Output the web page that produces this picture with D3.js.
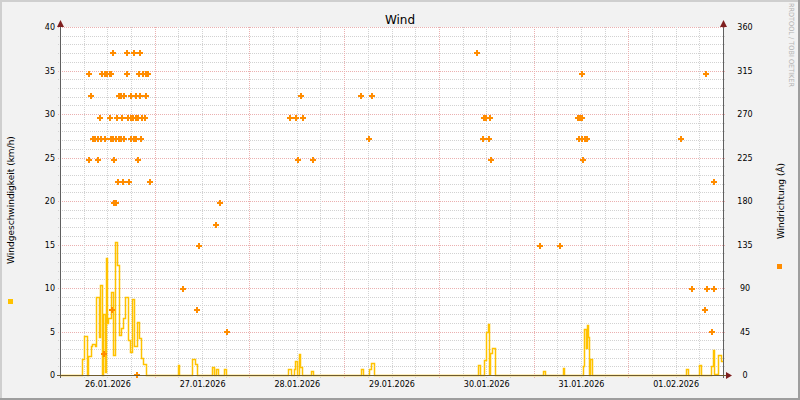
<!DOCTYPE html>
<html><head><meta charset="utf-8">
<script src="https://cdn.jsdelivr.net/npm/d3@7"></script>
<style>body{margin:0;background:#F2F2F2}svg{display:block}</style>
</head><body><svg id="c" width="800" height="400"></svg>
<script>
// ---- DATA ----
const chartTitle = "Wind";
const leftLabel = "Windgeschwindigkeit (km/h)";
const rightLabel = "Windrichtung (Â)";
const watermark = "RRDTOOL / TOBI OETIKER";
const rangeStart = "2026-01-26 00:00";
const rangeEnd = "2026-02-02 00:00";
const dayLabels = ["26.01.2026","27.01.2026","28.01.2026","29.01.2026","30.01.2026","31.01.2026","01.02.2026"];
const leftTicks = [0,5,10,15,20,25,30,35,40];
const rightTicks = [0,45,90,135,180,225,270,315,360];

// wind speed (km/h), step values starting at each time
const speedTimes = [
"2026-01-26 00:00","2026-01-26 05:30","2026-01-26 06:00","2026-01-26 06:45","2026-01-26 07:00","2026-01-26 07:45",
"2026-01-26 08:05","2026-01-26 08:45","2026-01-26 09:05","2026-01-26 09:50","2026-01-26 10:05","2026-01-26 10:40",
"2026-01-26 10:55","2026-01-26 11:25","2026-01-26 11:35","2026-01-26 11:55","2026-01-26 12:15","2026-01-26 12:55",
"2026-01-26 13:25","2026-01-26 13:55","2026-01-26 14:20","2026-01-26 14:55","2026-01-26 15:25","2026-01-26 16:05",
"2026-01-26 16:30","2026-01-26 17:10","2026-01-26 17:50","2026-01-26 18:20","2026-01-26 18:50","2026-01-26 19:30",
"2026-01-26 20:05","2026-01-26 20:35","2026-01-26 21:05","2026-01-26 21:50",
"2026-01-27 05:50","2026-01-27 06:10","2026-01-27 09:30","2026-01-27 10:05","2026-01-27 10:40",
"2026-01-27 14:30","2026-01-27 15:00","2026-01-27 15:30","2026-01-27 16:00","2026-01-27 17:35","2026-01-27 18:00",
"2026-01-28 09:50","2026-01-28 10:30","2026-01-28 11:20","2026-01-28 11:35","2026-01-28 12:00",
"2026-01-28 12:30","2026-01-28 12:55","2026-01-28 13:25","2026-01-28 15:40","2026-01-28 16:05",
"2026-01-29 04:20","2026-01-29 04:50","2026-01-29 06:25","2026-01-29 06:55","2026-01-29 07:30",
"2026-01-30 10:00","2026-01-30 10:30","2026-01-30 11:30","2026-01-30 12:00","2026-01-30 12:25","2026-01-30 12:45",
"2026-01-30 13:05","2026-01-30 13:35","2026-01-30 14:10",
"2026-01-31 02:20","2026-01-31 02:50","2026-01-31 07:20","2026-01-31 07:40",
"2026-01-31 12:25","2026-01-31 12:40","2026-01-31 13:10","2026-01-31 13:25","2026-01-31 13:50","2026-01-31 14:05",
"2026-01-31 14:25","2026-01-31 14:55",
"2026-02-01 14:40","2026-02-01 15:10","2026-02-01 17:50","2026-02-01 18:20",
"2026-02-01 21:05","2026-02-01 21:25","2026-02-01 21:50","2026-02-01 22:40","2026-02-01 23:30","2026-02-02 00:00"];
const speedValues = [
0,1.8,4.5,0,2.2,3.3,
3.6,3.3,9.0,4.4,10.3,0,
7.0,0.3,13.5,6.0,6.5,9.5,
2.3,15.3,12.6,4.6,5.4,6.5,
9.0,4.0,2.6,8.7,3.3,6.1,
4.3,2.0,1.3,0,
1.1,0,1.8,1.3,0,
0.9,0,0.7,0,0.7,0,
0.65,0,0.65,1.6,0,
2.4,0.9,0,0.5,0,
0.65,0,0.65,1.35,0,
1.15,0,1.7,4.9,5.9,0.1,
2.5,3.1,0,
0.45,0,0.8,0,
1.0,5.3,3.1,5.8,4.4,0,
1.8,0,
0.7,0,1.15,0,
1.05,2.9,0.1,2.25,1.6,1.6];

// wind direction (degrees, as read on the right axis)
const dirTimes = [
"2026-01-26 13:30","2026-01-26 17:05","2026-01-26 18:50","2026-01-26 20:20",
"2026-01-26 07:25","2026-01-26 10:40","2026-01-26 11:20","2026-01-26 12:00","2026-01-26 12:40","2026-01-26 13:00","2026-01-26 16:55","2026-01-26 19:55","2026-01-26 21:05","2026-01-26 21:45","2026-01-26 22:20",
"2026-01-26 07:55","2026-01-26 14:50","2026-01-26 15:30","2026-01-26 16:15","2026-01-26 17:55","2026-01-26 19:20","2026-01-26 20:20","2026-01-26 21:50",
"2026-01-26 10:15","2026-01-26 12:40","2026-01-26 14:30","2026-01-26 15:45","2026-01-26 17:15","2026-01-26 17:55","2026-01-26 18:35","2026-01-26 19:15","2026-01-26 19:45","2026-01-26 20:45","2026-01-26 21:30",
"2026-01-26 08:15","2026-01-26 08:55","2026-01-26 09:40","2026-01-26 10:20","2026-01-26 11:30","2026-01-26 12:50","2026-01-26 13:30","2026-01-26 14:10","2026-01-26 14:50","2026-01-26 15:30","2026-01-26 16:15","2026-01-26 18:05","2026-01-26 18:45","2026-01-26 19:15","2026-01-26 20:35",
"2026-01-26 07:25","2026-01-26 09:45","2026-01-26 13:45","2026-01-26 19:50",
"2026-01-26 14:45","2026-01-26 16:00","2026-01-26 17:35","2026-01-26 22:55",
"2026-01-26 13:35","2026-01-26 14:10","2026-01-26 13:15","2026-01-26 11:15","2026-01-26 19:25",
"2026-01-27 07:15","2026-01-27 10:45","2026-01-27 11:20","2026-01-27 15:35","2026-01-27 16:35","2026-01-27 18:25",
"2026-01-28 10:15","2026-01-28 11:50","2026-01-28 13:35","2026-01-28 13:05","2026-01-28 12:20","2026-01-28 16:05",
"2026-01-29 04:15","2026-01-29 07:05","2026-01-29 06:20",
"2026-01-30 09:45","2026-01-30 11:25","2026-01-30 11:55","2026-01-30 13:00","2026-01-30 11:10","2026-01-30 12:45","2026-01-30 13:15",
"2026-01-31 01:45","2026-01-31 06:45","2026-01-31 12:20","2026-01-31 11:20","2026-01-31 11:45","2026-01-31 12:10","2026-01-31 11:35","2026-01-31 12:15","2026-01-31 13:00","2026-01-31 13:35","2026-01-31 12:35",
"2026-02-01 13:25","2026-02-01 19:40","2026-02-01 21:45","2026-02-01 16:10","2026-02-01 20:00","2026-02-01 21:50","2026-02-01 19:30","2026-02-01 21:15"];
const dirValues = [
333,333,333,333,
311,311,311,311,311,311,311,311,311,311,311,
289,289,289,289,289,289,289,289,
266,266,266,266,266,266,266,266,266,266,266,
244,244,244,244,244,244,244,244,244,244,244,244,244,244,244,
222,222,222,222,
200,200,200,200,
178,178,67,22,0,
89,67,133,155,178,44,
266,266,266,289,222,222,
289,289,244,
333,266,266,266,244,244,222,
133,133,311,266,266,266,244,244,244,244,222,
244,311,200,89,89,89,67,44];

// ---- DRAWING ----
const parse = d3.timeParse("%Y-%m-%d %H:%M");
const parseDay = d3.timeParse("%d.%m.%Y");
const svg = d3.select("#c");
const W = 800, H = 400;
const L = 60, R = 723, T = 27, B = 375;
const snap = v => Math.round(v) + 0.5;

const x = d3.scaleTime().domain([parse(rangeStart), parse(rangeEnd)]).range([L, R]);
const ySpeed = d3.scaleLinear().domain([0, 40]).range([B, T]);
const yDir = d3.scaleLinear().domain([0, 360]).range([B, T]);

const font = "DejaVu Sans, Verdana, sans-serif";
const speedColor = "#FFC200", dirColor = "#FF8C00";

// background + shade
svg.append("rect").attr("width", W).attr("height", H).attr("fill", "#F2F2F2");
svg.append("rect").attr("x",0).attr("y",0).attr("width",W).attr("height",2).attr("fill","#CFCFCF");
svg.append("rect").attr("x",0).attr("y",0).attr("width",2).attr("height",H).attr("fill","#CFCFCF");
svg.append("rect").attr("x",W-2).attr("y",0).attr("width",2).attr("height",H).attr("fill","#9E9E9E");
svg.append("rect").attr("x",0).attr("y",H-2).attr("width",W).attr("height",2).attr("fill","#9E9E9E");
// canvas
svg.append("rect").attr("x", L).attr("y", T).attr("width", R - L).attr("height", B - T).attr("fill", "#FFFFFF");

// grid
const grid = svg.append("g").attr("shape-rendering", "crispEdges");
const minorCol = "#D2D2D2", majorCol = "#EBB0B0";
d3.range(0, 41, 1).forEach(v => {
  const yy = snap(ySpeed(v));
  const major = v % 5 === 0;
  if (v === 0) return;
  grid.append("line").attr("x1", L - 2).attr("x2", R + 3).attr("y1", yy).attr("y2", yy)
    .attr("stroke", major ? majorCol : minorCol).attr("stroke-dasharray", "1,1");
});
const hours = d3.timeHour.every(6).range(x.domain()[0], d3.timeHour.offset(x.domain()[1], 1));
hours.forEach(t => {
  const xx = snap(x(t));
  if (xx <= L + 1 || xx >= R) return;
  const major = t.getHours() === 0;
  grid.append("line").attr("x1", xx).attr("x2", xx).attr("y1", T).attr("y2", B + 3)
    .attr("stroke", major ? majorCol : minorCol).attr("stroke-dasharray", "1,1");
});

// wind speed step line
const speedData = speedTimes.map((t, i) => ({ t: parse(t), v: speedValues[i] }));
const line = d3.line()
  .x(d => snap(x(d.t)))
  .y(d => snap(ySpeed(d.v)))
  .curve(d3.curveStepAfter);
svg.append("path").datum(speedData).attr("d", line)
  .attr("fill", "none").attr("stroke", speedColor).attr("stroke-width", 1.5)
  .attr("stroke-linejoin", "miter");

// wind direction markers
const dirData = dirTimes.map((t, i) => ({ t: parse(t), v: dirValues[i] }));
const sym = d3.symbol(d3.symbolCross, 20);
svg.append("g").selectAll("path").data(dirData).join("path")
  .attr("transform", d => `translate(${Math.round(x(d.t))},${Math.round(yDir(d.v))})`)
  .attr("d", sym).attr("fill", dirColor).attr("shape-rendering", "crispEdges");

// axes lines
const ax = svg.append("g").attr("shape-rendering", "crispEdges");
ax.append("line").attr("x1", L + 0.5).attr("x2", L + 0.5).attr("y1", T - 5).attr("y2", B + 3).attr("stroke", "#5F5F5F");
ax.append("line").attr("x1", R + 0.5).attr("x2", R + 0.5).attr("y1", T - 5).attr("y2", B + 3).attr("stroke", "#5F5F5F");
ax.append("line").attr("x1", L - 3).attr("x2", R + 3).attr("y1", B + 0.5).attr("y2", B + 0.5).attr("stroke", "#6E5B2E");
const arrowCol = "#7F1F1F";
svg.append("path").attr("d", `M${L+0.5},${T-7} L${L-3},${T} L${L+4},${T} Z`).attr("fill", arrowCol);
svg.append("path").attr("d", `M${R+0.5},${T-7} L${R-3},${T} L${R+4},${T} Z`).attr("fill", arrowCol);
svg.append("path").attr("d", `M${R+9},${B+0.5} L${R+3},${B-3} L${R+3},${B+4} Z`).attr("fill", arrowCol);

// axis labels via d3 axes
const noons = dayLabels.map(s => d3.timeHour.offset(parseDay(s), 12));
const xAxis = d3.axisBottom(x).tickValues(noons).tickFormat(d3.timeFormat("%d.%m.%Y")).tickSize(0).tickPadding(6);
const gx = svg.append("g").attr("transform", `translate(0,${B})`).call(xAxis);
gx.select(".domain").remove();
gx.selectAll("text").attr("font-family", font).attr("font-size", 8).attr("fill", "#000");

const yAxisL = d3.axisLeft(ySpeed).tickValues(leftTicks).tickSize(0).tickPadding(5);
const gyl = svg.append("g").attr("transform", `translate(${L},0)`).call(yAxisL);
gyl.select(".domain").remove();
gyl.selectAll("text").attr("font-family", font).attr("font-size", 8).attr("fill", "#000");

const yAxisR = d3.axisRight(yDir).tickValues(rightTicks).tickSize(0).tickPadding(0);
const gyr = svg.append("g").attr("transform", `translate(${R},0)`).call(yAxisR);
gyr.select(".domain").remove();
gyr.selectAll("text").attr("x", 22).attr("text-anchor", "middle")
  .attr("font-family", font).attr("font-size", 8).attr("fill", "#000");

// title
svg.append("text").attr("x", 400).attr("y", 24).attr("text-anchor", "middle")
  .attr("font-family", font).attr("font-size", 12).attr("fill", "#000").text(chartTitle);

// vertical labels
svg.append("text").attr("transform", "translate(14,200) rotate(-90)").attr("text-anchor", "middle")
  .attr("font-family", font).attr("font-size", 9).attr("fill", "#000").text(leftLabel);
svg.append("text").attr("transform", "translate(784,201) rotate(-90)").attr("text-anchor", "middle")
  .attr("font-family", font).attr("font-size", 9).attr("fill", "#000").text(rightLabel);
svg.append("rect").attr("x", 8).attr("y", 299).attr("width", 5).attr("height", 5).attr("fill", speedColor);
svg.append("rect").attr("x", 777).attr("y", 264).attr("width", 5).attr("height", 5).attr("fill", dirColor);

// watermark
svg.append("text").attr("transform", "translate(789,3) rotate(90)")
  .attr("font-family", font).attr("font-size", 7).attr("fill", "#B4B4B4")
  .attr("textLength", 84).attr("lengthAdjust", "spacingAndGlyphs").text(watermark);
</script>
</body></html>
